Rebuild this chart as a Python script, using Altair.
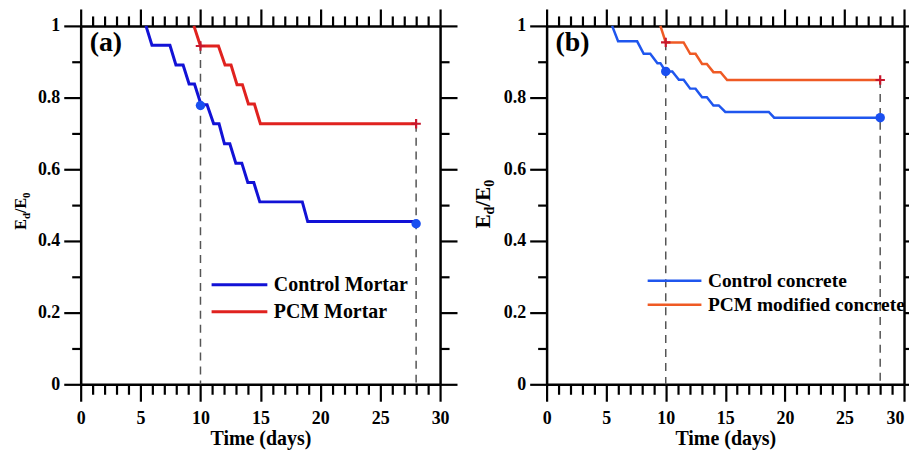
import altair as alt
import pandas as pd

FONT = "Liberation Serif"

# ---------------- data ----------------
panel_labels = ["(a)", "(b)"]
x_title = "Time (days)"

# panel (a)
a_series = ["Control Mortar", "PCM Mortar"]
a_ctrl_t = [5.45, 5.95, 7.45, 7.95, 8.55, 9.05, 9.5, 10.05, 10.55, 11.1, 11.55, 12.0, 12.45,
            12.95, 13.45, 13.95, 14.45, 14.95, 18.5, 18.95, 28.0]
a_ctrl_v = [1.0, 0.946, 0.946, 0.891, 0.891, 0.838, 0.838, 0.780, 0.780, 0.727, 0.727, 0.671,
            0.671, 0.617, 0.617, 0.563, 0.563, 0.509, 0.509, 0.454, 0.454]
a_pcm_t = [9.45, 10.0, 11.5, 12.05, 12.55, 13.05, 13.5, 14.0, 14.5, 15.0, 28.0]
a_pcm_v = [1.0, 0.944, 0.944, 0.891, 0.891, 0.836, 0.836, 0.782, 0.782, 0.727, 0.727]
a_dot_t = [10, 28]
a_dot_v = [0.778, 0.448]
a_plus_t = [10, 28]
a_plus_v = [0.944, 0.727]

# panel (b)
b_series = ["Control concrete", "PCM modified concrete"]
b_ctrl_t = [5.5, 6.0, 7.6, 8.15, 8.7, 9.3, 9.55, 10.0, 10.55, 11.1, 11.5, 12.05, 12.5, 13.05,
            13.45, 14.0, 14.45, 15.0, 18.65, 19.1, 28.0]
b_ctrl_v = [1.0, 0.957, 0.957, 0.922, 0.922, 0.896, 0.896, 0.873, 0.873, 0.850, 0.850, 0.825,
            0.825, 0.801, 0.801, 0.778, 0.778, 0.760, 0.760, 0.744, 0.744]
b_pcm_t = [9.55, 10.0, 11.5, 12.05, 12.5, 13.05, 13.45, 14.0, 14.6, 15.15, 28.0]
b_pcm_v = [1.0, 0.954, 0.954, 0.922, 0.922, 0.894, 0.894, 0.871, 0.871, 0.849, 0.849]
b_dot_t = [10, 28]
b_dot_v = [0.873, 0.744]
b_plus_t = [10, 28]
b_plus_v = [0.954, 0.849]

x_ticks = list(range(0, 31))
y_ticks = [0, 0.1, 0.2, 0.3, 0.4, 0.5, 0.6, 0.7, 0.8, 0.9, 1.0]

XS = alt.Scale(domain=[0, 30], nice=False, zero=False)
YS = alt.Scale(domain=[0, 1], nice=False)

x_tick_size = {"condition": {"test": "datum.value % 5 === 0", "value": 17}, "value": 10}
y_tick_size = {"condition": {"test": "round(datum.value*10) % 2 === 0", "value": 17}, "value": 9}

common_axis = dict(grid=False, domainColor="black", domainWidth=2.5, tickColor="black",
                   tickWidth=2.2, labelFont=FONT, labelFontWeight="bold", labelFontSize=18,
                   labelColor="black", labelOverlap=False, labelFlush=False, labelBound=False)


def x_bottom(flush_last):
    extra = {}
    if flush_last:
        extra["labelAlign"] = {"condition": {"test": "datum.value === 30", "value": "right"},
                               "value": "center"}
    return alt.Axis(orient="bottom", values=x_ticks, tickSize=x_tick_size,
                    labelExpr="datum.value % 5 === 0 ? datum.label : ''", labelPadding=8,
                    title=x_title, titleFont=FONT, titleFontWeight="bold", titleFontSize=20,
                    titleColor="black", titlePadding=1, **extra, **common_axis)


def x_top():
    return alt.Axis(orient="top", values=x_ticks, tickSize=x_tick_size, labels=False,
                    title=None, minExtent=17, maxExtent=17, **common_axis)


def y_left():
    return alt.Axis(orient="left", values=y_ticks, tickSize=y_tick_size,
                    labelExpr="round(datum.value*10) % 2 === 0 ? format(datum.value, '~g') : ''",
                    labelPadding=4, title=None, minExtent=74, maxExtent=74, **common_axis)


def y_right():
    return alt.Axis(orient="right", values=y_ticks, tickSize=y_tick_size, labels=False,
                    title=None, **common_axis)


def panel(series, ctrl_t, ctrl_v, pcm_t, pcm_v, dot_t, dot_v, plus_t, plus_v, colors,
          dot_color, plus_color, label, legend_xy, clip_h, row_pad, legend_fs, line_w,
          title_sizes, title_center, title_x, width, flush_last):
    rows = []
    for i, (t, v) in enumerate(zip(ctrl_t, ctrl_v)):
        rows.append({"t": t, "v": v, "series": series[0], "i": i})
    for i, (t, v) in enumerate(zip(pcm_t, pcm_v)):
        rows.append({"t": t, "v": v, "series": series[1], "i": i})
    df = pd.DataFrame(rows)

    lines = alt.Chart(df).mark_line(strokeWidth=line_w).encode(
        x=alt.X("t:Q", scale=XS, axis=x_bottom(flush_last)),
        y=alt.Y("v:Q", scale=YS, axis=y_left()),
        color=alt.Color("series:N", scale=alt.Scale(domain=series, range=colors),
                        legend=alt.Legend(orient="none", legendX=legend_xy[0],
                                          legendY=legend_xy[1], title=None,
                                          symbolType="stroke", symbolSize=legend_xy[2] ** 2,
                                          symbolStrokeWidth=line_w, labelFont=FONT,
                                          labelFontWeight="bold", labelFontSize=legend_fs,
                                          labelColor="black", labelOffset=5, labelLimit=0,
                                          clipHeight=clip_h, rowPadding=row_pad, padding=0)),
        order="i:Q",
    )

    dash_df = pd.DataFrame({"t": plus_t, "top": plus_v})
    dashes = alt.Chart(dash_df).mark_rule(color="#555555", strokeWidth=1.5,
                                          strokeDash=[8, 6]).encode(
        x=alt.X("t:Q", scale=XS, axis=x_top()),
        y=alt.Y("top:Q", scale=YS, axis=y_right()),
        y2=alt.datum(0),
    )

    dots = alt.Chart(pd.DataFrame({"t": dot_t, "v": dot_v})).mark_circle(
        size=90, color=dot_color, opacity=1).encode(
        x=alt.X("t:Q", scale=XS, axis=None), y=alt.Y("v:Q", scale=YS, axis=None))

    plus = alt.Chart(pd.DataFrame({"t": plus_t, "v": plus_v})).mark_point(
        shape="M-1,0L1,0M0,-1L0,1", size=90, filled=False, strokeWidth=2.2,
        color=plus_color, opacity=1).encode(
        x=alt.X("t:Q", scale=XS, axis=None), y=alt.Y("v:Q", scale=YS, axis=None))

    lab = alt.Chart(pd.DataFrame({"label": [label]})).mark_text(
        align="left", baseline="alphabetic", font=FONT, fontWeight="bold", fontSize=28,
        color="black").encode(x=alt.value(9), y=alt.value(25), text="label:N")

    # y title  E_d / E_0 with subscripts, rotated
    big, small = title_sizes
    parts = [("E", big, 0.667), ("d", small, 0.556), ("/", big, 0.278), ("E", big, 0.667),
             ("0", small, 0.5)]
    total = sum(fs * w for _, fs, w in parts)
    y0 = title_center + total / 2
    ylayers = []
    for txt, fs, w in parts:
        xb = title_x if fs == big else title_x + 4
        ylayers.append(alt.Chart(pd.DataFrame({"s": [txt]})).mark_text(
            align="left", baseline="alphabetic", angle=270, font=FONT, fontWeight="bold",
            fontSize=fs, color="black").encode(x=alt.value(xb), y=alt.value(y0), text="s:N"))
        y0 -= fs * w

    return alt.layer(dashes, lines, dots, plus, lab, *ylayers).resolve_axis(
        x="independent", y="independent").properties(width=width, height=360)


pa = panel(a_series, a_ctrl_t, a_ctrl_v, a_pcm_t, a_pcm_v, a_dot_t, a_dot_v, a_plus_t,
           a_plus_v, ["#1212d6", "#e0221f"], "#1a4ff0", "#c8182c", panel_labels[0],
           (130, 249, 56), 22, 5, 20, 3, (16, 11), 186, -55, 361, False)
pb = panel(b_series, b_ctrl_t, b_ctrl_v, b_pcm_t, b_pcm_v, b_dot_t, b_dot_v, b_plus_t,
           b_plus_v, ["#1f56ee", "#ef5a24"], "#1a4ff0", "#c8182c", panel_labels[1],
           (100, 246, 54), 20, 4, 19.5, 2.5, (21, 14), 179, -57, 359, True)

chart = alt.hconcat(pa, pb, spacing=13).resolve_scale(color="independent").properties(
    padding={"left": -2, "top": -2, "right": -14, "bottom": 0}).configure_view(stroke="transparent")

chart.save("out.html", embed_options={"renderer": "svg", "actions": False})
